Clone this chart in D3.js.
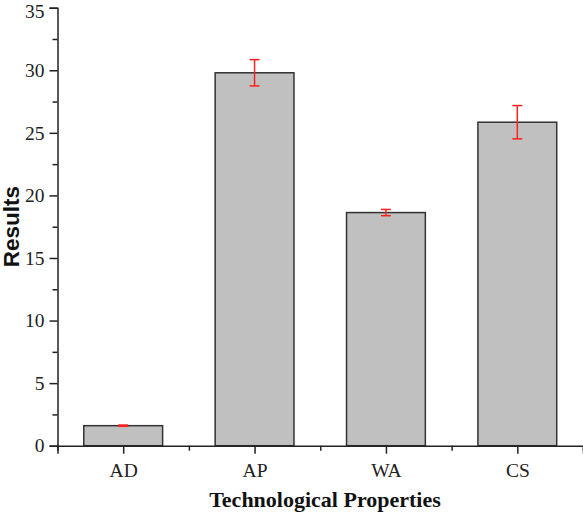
<!DOCTYPE html>
<html><head><meta charset="utf-8">
<script src="https://cdn.jsdelivr.net/npm/d3@7"></script>
<style>body{margin:0;background:#fff}</style>
</head><body>
<svg id="c" width="583" height="516"></svg>
<script>
const categories = ["AD", "AP", "WA", "CS"];
const values = [1.6, 29.8, 18.63, 25.85];
const errors = [0.05, 1.05, 0.25, 1.33];
const yTicks = [0, 5, 10, 15, 20, 25, 30, 35];
const yMinorTicks = [2.5, 7.5, 12.5, 17.5, 22.5, 27.5, 32.5];

const svg = d3.select("#c");
const mLeft = 57.5, mRight = 583, mTop = 7.7, mBottom = 445.7;
const x = d3.scaleLinear().domain([0.5, 4.5]).range([mLeft, mRight]);
const y = d3.scaleLinear().domain([0, 35]).range([mBottom, mTop]);
const bw = (x(1) - x(0)) * 0.6;

const g = svg.append("g");
// bars
g.selectAll("rect.bar").data(values).enter().append("rect")
  .attr("x", (d, i) => x(i + 1) - bw / 2)
  .attr("y", d => y(d))
  .attr("width", bw)
  .attr("height", d => y(0) - y(d))
  .attr("fill", "#c0c0c0").attr("stroke", "#333").attr("stroke-width", 1.5);

// error bars
const eb = g.selectAll("g.err").data(values).enter().append("g").attr("stroke", "#ff2020").attr("stroke-width", 1.5);
eb.append("line").attr("x1", (d, i) => x(i + 1)).attr("x2", (d, i) => x(i + 1))
  .attr("y1", (d, i) => y(d + errors[i])).attr("y2", (d, i) => y(d - errors[i]));
eb.append("line").attr("x1", (d, i) => x(i + 1) - 5).attr("x2", (d, i) => x(i + 1) + 5)
  .attr("y1", (d, i) => y(d + errors[i])).attr("y2", (d, i) => y(d + errors[i]));
eb.append("line").attr("x1", (d, i) => x(i + 1) - 5).attr("x2", (d, i) => x(i + 1) + 5)
  .attr("y1", (d, i) => y(d - errors[i])).attr("y2", (d, i) => y(d - errors[i]));

// y axis
const yAx = svg.append("g").attr("transform", `translate(${mLeft},0)`)
  .call(d3.axisLeft(y).tickValues(yTicks).tickSize(8).tickPadding(5).tickFormat(d3.format("d")));
svg.append("g").attr("transform", `translate(${mLeft},0)`)
  .call(d3.axisLeft(y).tickValues(yMinorTicks).tickSize(5).tickFormat(""))
  .select(".domain").remove();
// x axis
svg.append("g").attr("transform", `translate(0,${mBottom})`)
  .call(d3.axisBottom(x).tickValues([1, 2, 3, 4]).tickSize(8).tickPadding(9).tickFormat((d) => categories[d - 1]));
svg.append("g").attr("transform", `translate(0,${mBottom})`)
  .call(d3.axisBottom(x).tickValues([0.5, 1.5, 2.5, 3.5, 4.5]).tickSize(5).tickFormat(""))
  .select(".domain").remove();

svg.selectAll(".domain").attr("stroke", "#222").attr("stroke-width", 1.5);
svg.selectAll(".tick line").attr("stroke", "#222").attr("stroke-width", 1.5);
svg.selectAll(".tick text").attr("font-family", "Liberation Serif, Times New Roman, serif")
  .attr("font-size", 19.5).attr("fill", "#222");
// keep the top label inside the canvas
yAx.selectAll(".tick").filter(d => d === 35).select("text").attr("dy", "0.52em");

svg.append("text").attr("transform", `translate(19,${(mTop + mBottom) / 2}) rotate(-90)`)
  .attr("text-anchor", "middle").attr("font-family", "Liberation Sans, Arial, sans-serif")
  .attr("font-weight", "bold").attr("font-size", 22.5).attr("fill", "#111").text("Results");
svg.append("text").attr("x", 325).attr("y", 507)
  .attr("text-anchor", "middle").attr("font-family", "Liberation Serif, Times New Roman, serif")
  .attr("font-weight", "bold").attr("font-size", 22).attr("fill", "#111").text("Technological Properties");
</script>
</body></html>
